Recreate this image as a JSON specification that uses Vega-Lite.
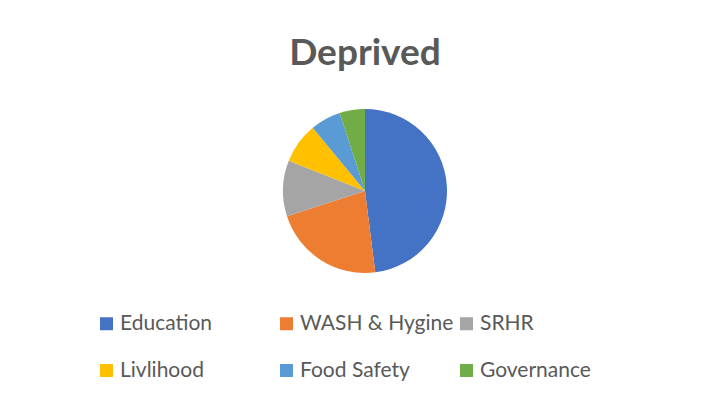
{
  "$schema": "https://vega.github.io/schema/vega-lite/v6.json",
  "autosize": "none",
  "width": 704,
  "height": 382,
  "padding": {"left": 13, "top": 0, "right": 0, "bottom": 20},
  "background": "white",
  "title": {
    "text": "Deprived",
    "frame": "group",
    "anchor": "middle",
    "orient": "top",
    "offset": -65,
    "dy": 37,
    "baseline": "alphabetic",
    "font": "Lato",
    "fontSize": 37,
    "fontWeight": "bold",
    "color": "#595959"
  },
  "data": {
    "values": [
      {"category": "Education", "value": 48, "order": 1},
      {"category": "WASH & Hygine", "value": 22, "order": 2},
      {"category": "SRHR", "value": 11, "order": 3},
      {"category": "Livlihood", "value": 8, "order": 4},
      {"category": "Food Safety", "value": 6, "order": 5},
      {"category": "Governance", "value": 5, "order": 6}
    ]
  },
  "mark": {"type": "arc", "radius": 82},
  "encoding": {
    "theta": {"field": "value", "type": "quantitative", "stack": true},
    "order": {"field": "order", "type": "quantitative"},
    "color": {
      "field": "category",
      "type": "nominal",
      "sort": ["Education", "WASH & Hygine", "SRHR", "Livlihood", "Food Safety", "Governance"],
      "scale": {
        "domain": ["Education", "WASH & Hygine", "SRHR", "Livlihood", "Food Safety", "Governance"],
        "range": ["#4472C4", "#ED7D31", "#A5A5A5", "#FFC000", "#5B9BD5", "#70AD47"]
      },
      "legend": {
        "title": null,
        "orient": "none",
        "direction": "horizontal",
        "legendX": 83,
        "legendY": 313,
        "columns": 3,
        "gridAlign": "all",
        "columnPadding": 2,
        "rowPadding": 25,
        "symbolType": "square",
        "symbolSize": 169,
        "symbolStrokeWidth": 0,
        "symbolOffset": 0,
        "labelFont": "Lato",
        "labelFontSize": 21,
        "labelColor": "#595959",
        "labelOffset": 3,
        "labelLimit": 300
      }
    }
  },
  "config": {"view": {"stroke": null}}
}
